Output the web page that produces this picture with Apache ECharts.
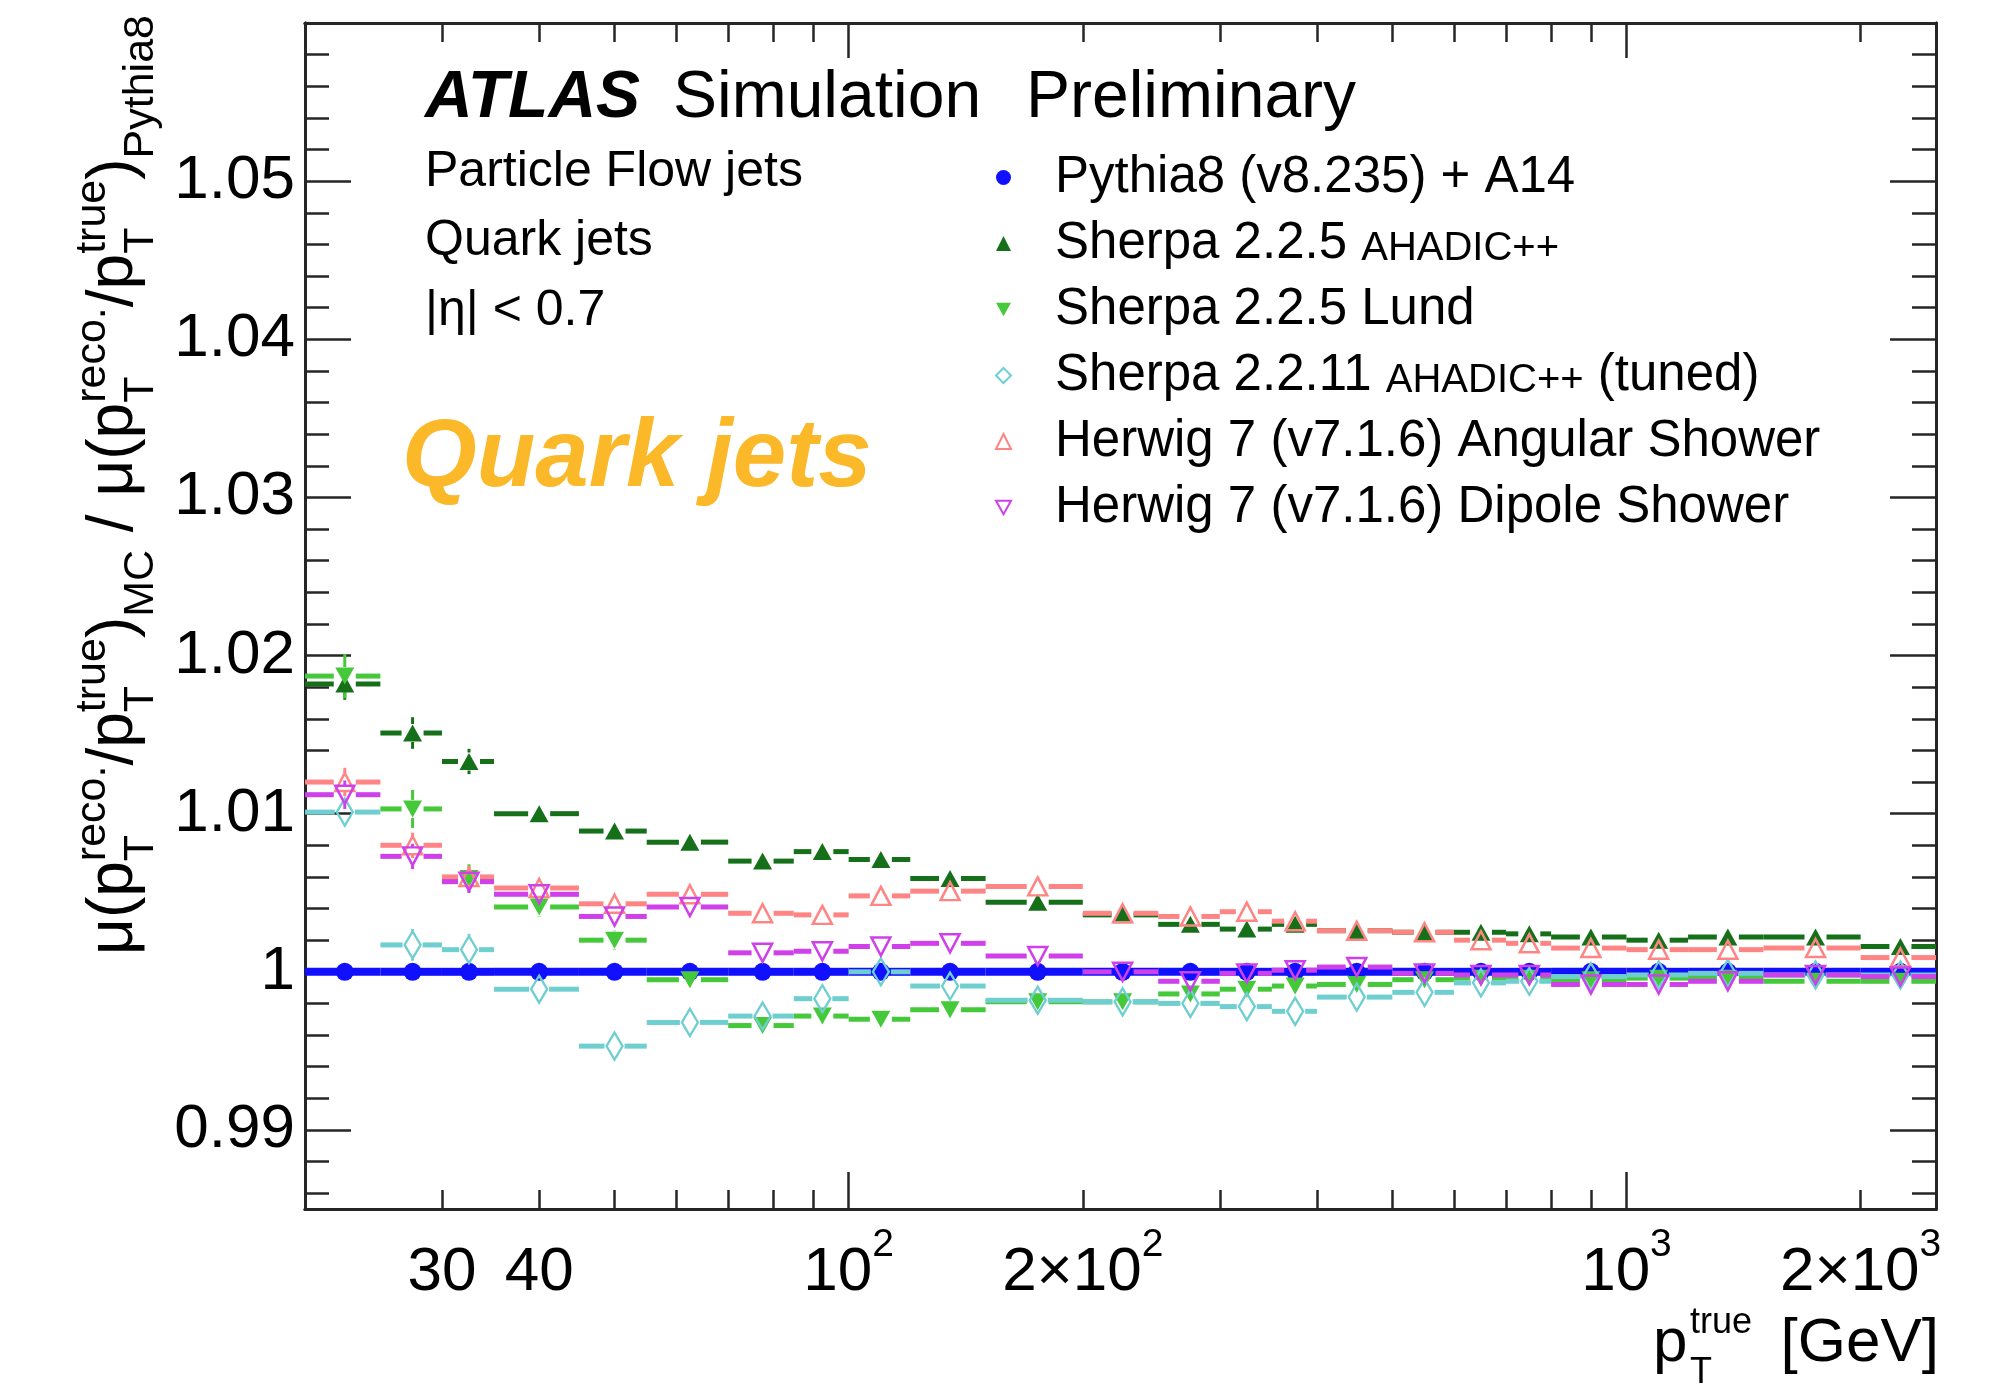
<!DOCTYPE html>
<html><head><meta charset="utf-8">
<script src="https://cdn.jsdelivr.net/npm/echarts@6/dist/echarts.min.js"></script>
<style>html,body{margin:0;padding:0;background:#fff}#c{width:1999px;height:1389px}</style>
</head><body><div id="c"></div>
<script>
// ---------------- data ----------------
const binEdges = [20,25,30,35,45,55,70,85,100,120,150,200,250,300,350,400,500,600,700,800,1000,1200,1500,2000,2500];

const pythia        = [1,1,1,1,1,1,1,1,1,1,1,1,1,1,1,1,1,1,1,1,1,1,1,1];
const sherpaAhadic  = [1.0182,1.0151,1.0133,1.0100,1.0089,1.0082,1.0070,1.0076,1.0071,1.0059,1.0044,1.0036,1.0030,1.0027,1.0030,1.0026,1.0025,1.0025,1.0024,1.0022,1.0020,1.0022,1.0022,1.0016];
const sherpaLund    = [1.0187,1.0103,1.0059,1.0041,1.0020,0.9995,0.9966,0.9972,0.9970,0.9976,0.9981,0.9981,0.9986,0.9989,0.9991,0.9992,0.9995,0.9996,0.9996,0.9995,0.9996,0.9996,0.9994,0.9994];
const sherpaTuned   = [1.0101,1.0017,1.0014,0.9989,0.9953,0.9968,0.9972,0.9983,1.0000,0.9991,0.9982,0.9981,0.9980,0.9978,0.9975,0.9984,0.9987,0.9993,0.9994,0.9997,0.9998,0.9999,0.9998,0.9998];
const herwigAngular = [1.0120,1.0080,1.0060,1.0053,1.0043,1.0049,1.0037,1.0036,1.0048,1.0051,1.0054,1.0037,1.0035,1.0038,1.0032,1.0026,1.0025,1.0020,1.0018,1.0015,1.0014,1.0014,1.0015,1.0009];
const herwigDipole  = [1.0112,1.0073,1.0057,1.0049,1.0035,1.0041,1.0012,1.0013,1.0016,1.0018,1.0010,1.0000,0.9994,0.9999,1.0001,1.0003,0.9999,0.9998,0.9998,0.9992,0.9992,0.9994,0.9998,0.9997];

const errPythia   = [0,0,0,0,0,0,0,0,0,0,0,0,0,0,0,0,0,0,0,0,0,0,0,0];
const errAhadic   = [0.0010,0.0010,0.0008,0.0005,0.0005,0.0004,0.0004,0.0004,0.0004,0.0004,0.0003,0.0003,0.0003,0.0003,0.0003,0.0003,0.0003,0.0003,0.0003,0.0003,0.0003,0.0003,0.0003,0.0003];
const errLund     = [0.0014,0.0012,0.0009,0.0006,0.0006,0.0005,0.0005,0.0005,0.0004,0.0004,0.0004,0.0004,0.0004,0.0004,0.0004,0.0003,0.0003,0.0003,0.0003,0.0003,0.0003,0.0003,0.0003,0.0003];
const errTuned    = [0.0009,0.0010,0.0010,0.0008,0.0008,0.0006,0.0006,0.0005,0.0005,0.0005,0.0004,0.0004,0.0004,0.0004,0.0004,0.0004,0.0003,0.0003,0.0003,0.0003,0.0003,0.0003,0.0003,0.0003];
const errAngular  = [0.0009,0.0008,0.0007,0.0006,0.0006,0.0005,0.0005,0.0005,0.0005,0.0005,0.0005,0.0005,0.0006,0.0006,0.0005,0.0004,0.0004,0.0004,0.0004,0.0003,0.0003,0.0003,0.0003,0.0003];
const errDipole   = [0.0009,0.0008,0.0007,0.0006,0.0006,0.0005,0.0005,0.0005,0.0005,0.0005,0.0005,0.0004,0.0004,0.0004,0.0004,0.0004,0.0003,0.0003,0.0003,0.0003,0.0003,0.0003,0.0003,0.0003];

const legendNames = [
  'Pythia8 (v8.235) + A14',
  'Sherpa 2.2.5 AHADIC++',
  'Sherpa 2.2.5 Lund',
  'Sherpa 2.2.11 AHADIC++ (tuned)',
  'Herwig 7 (v7.1.6) Angular Shower',
  'Herwig 7 (v7.1.6) Dipole Shower'
];

const xLabelValues = [30, 40, 100, 200, 1000, 2000];
const xMajorTicks = [100, 1000];
const xMinorTicks = [30,40,50,60,70,80,90,200,300,400,500,600,700,800,900,2000];
const yLabelValues = [0.99, 1.00, 1.01, 1.02, 1.03, 1.04, 1.05];
const yMajorTicks = [0.99, 1.00, 1.01, 1.02, 1.03, 1.04, 1.05];
const yMinorTicks = [];
for (let k = 493; k <= 530; k++) { if (k % 5 !== 0) yMinorTicks.push(k * 2 / 1000); }

// ---------------- style ----------------
const FONT = '"Liberation Sans", Arial, Helvetica, sans-serif';
const FRAME = '#262626';

const models = [
  {name: legendNames[0], values: pythia,        errs: errPythia,  color: '#1010ff', symbol: 'circle',   size: 18,      open: false, lw: 8, gapX: 0,  gapY: 9},
  {name: legendNames[1], values: sherpaAhadic,  errs: errAhadic,  color: '#16701a', symbol: 'triangle', size: [19,17], open: false, lw: 5, gapX: 11, gapY: 9},
  {name: legendNames[2], values: sherpaLund,    errs: errLund,    color: '#45c93a', symbol: 'path://M0,0L20,0L10,18Z', size: [19,17], open: false, lw: 5, gapX: 11, gapY: 9},
  {name: legendNames[3], values: sherpaTuned,   errs: errTuned,   color: '#6fcfd0', symbol: 'diamond',  size: [16,27], open: true,  lw: 5, gapX: 10, gapY: 14},
  {name: legendNames[4], values: herwigAngular, errs: errAngular, color: '#ff8585', symbol: 'triangle', size: [19,18], open: true,  lw: 5, gapX: 11, gapY: 9},
  {name: legendNames[5], values: herwigDipole,  errs: errDipole,  color: '#cf40ea', symbol: 'path://M0,0L20,0L10,18Z', size: [19,18], open: true,  lw: 5, gapX: 11, gapY: 9}
];

function barSeries(m, idx) {
  const data = m.values.map((v, i) => [binEdges[i], binEdges[i+1], v, m.errs[i], (binEdges[i] + binEdges[i+1]) / 2]);
  return {
    type: 'custom', name: '_bars' + idx, xAxisIndex: 0, yAxisIndex: 0, silent: true, clip: false,
    data: data, encode: {x: [0, 1, 4], y: 2},
    renderItem: function (params, api) {
      const lo = api.value(0), hi = api.value(1), v = api.value(2), e = api.value(3), c = api.value(4);
      const pL = api.coord([lo, v]), pR = api.coord([hi, v]), pC = api.coord([c, v]);
      const pT = api.coord([c, v + e]), pB = api.coord([c, v - e]);
      const st = {stroke: m.color, lineWidth: m.lw};
      const ch = [];
      if (pC[0] - m.gapX > pL[0]) ch.push({type: 'line', shape: {x1: pL[0], y1: pL[1], x2: pC[0] - m.gapX, y2: pC[1]}, style: st});
      if (pR[0] > pC[0] + m.gapX) ch.push({type: 'line', shape: {x1: pC[0] + m.gapX, y1: pC[1], x2: pR[0], y2: pR[1]}, style: st});
      const vst = {stroke: m.color, lineWidth: 3};
      if (pC[1] - pT[1] > m.gapY) {
        ch.push({type: 'line', shape: {x1: pC[0], y1: pT[1], x2: pC[0], y2: pC[1] - m.gapY}, style: vst});
        ch.push({type: 'line', shape: {x1: pC[0], y1: pC[1] + m.gapY, x2: pC[0], y2: pB[1]}, style: vst});
      }
      return {type: 'group', children: ch};
    }
  };
}
function markerSeries(m) {
  return {
    type: 'scatter', name: m.name, xAxisIndex: 0, yAxisIndex: 0, silent: true,
    data: m.values.map((v, i) => [(binEdges[i] + binEdges[i+1]) / 2, v]),
    symbol: m.symbol, symbolSize: m.size,
    itemStyle: {color: m.open ? 'rgba(0,0,0,0)' : m.color, borderColor: m.color, borderWidth: m.open ? 2.5 : 0, opacity: 1},
    emphasis: {disabled: true}
  };
}
const series = [];
models.forEach((m, i) => { series.push(barSeries(m, i)); series.push(markerSeries(m)); });

// ---------------- axes ----------------
function xAxisDef(position, ticks, len, labels) {
  return {
    type: 'log', logBase: 10, min: 20, max: 2500, position: position, gridIndex: 0,
    axisLine: {show: true, onZero: false, lineStyle: {color: FRAME, width: 3}},
    axisTick: {show: true, inside: true, length: len, customValues: ticks, lineStyle: {color: FRAME, width: 2.5}},
    axisLabel: labels ? {
      show: true, customValues: xLabelValues, margin: 17,
      formatter: function (v) {
        const r = Math.round(v);
        if (r === 100) return '{n|10}{s|2}';
        if (r === 200) return '{n|2\u00d710}{s|2}';
        if (r === 1000) return '{n|10}{s|3}';
        if (r === 2000) return '{n|2\u00d710}{s|3}';
        return '{n|' + r + '}';
      },
      rich: {
        n: {fontFamily: FONT, fontSize: 62, lineHeight: 78, color: '#000', verticalAlign: 'bottom'},
        s: {fontFamily: FONT, fontSize: 39, lineHeight: 39, color: '#000', verticalAlign: 'top'}
      }
    } : {show: false},
    splitLine: {show: false}, minorTick: {show: false}, minorSplitLine: {show: false}
  };
}
function yAxisDef(position, ticks, len, labels) {
  return {
    type: 'value', min: 0.985, max: 1.06, position: position, gridIndex: 0,
    axisLine: {show: true, onZero: false, lineStyle: {color: FRAME, width: 3}},
    axisTick: {show: true, inside: true, length: len, customValues: ticks, lineStyle: {color: FRAME, width: 2.5}},
    axisLabel: labels ? {
      show: true, customValues: yLabelValues, margin: 10, color: '#000', fontFamily: FONT, fontSize: 62,
      formatter: function (v) { return Math.abs(v - 1) < 1e-9 ? '1' : v.toFixed(2); }
    } : {show: false},
    splitLine: {show: false}, minorTick: {show: false}, minorSplitLine: {show: false}
  };
}

// ---------------- texts ----------------
const measureCtx = document.createElement('canvas').getContext('2d');
function tw(t, size, style) { measureCtx.font = (style || '') + ' ' + size + 'px ' + FONT; return measureCtx.measureText(t).width; }
function txt(t, x, base, size, opts) {
  opts = opts || {};
  const font = (opts.style || '') + ' ' + size + 'px ' + FONT;
  return {type: 'text', x: x, y: base - 0.347 * size, silent: true,
    style: {text: t, font: font, fill: opts.color || '#000', align: opts.align || 'left', textAlign: opts.align || 'left', verticalAlign: 'middle', textVerticalAlign: 'middle'}};
}

// y-axis title (rotated), assembled from pieces
const TF = 64, TS = 43;
const titleParts = [
  {m: '\u03bc(p'}, {sup: 'reco.', sub: 'T'}, {m: '/p'}, {sup: 'true', sub: 'T'}, {m: ')'}, {sub: 'MC'},
  {m: ' / \u03bc(p'}, {sup: 'reco.', sub: 'T'}, {m: '/p'}, {sup: 'true', sub: 'T'}, {m: ')'}, {sub: 'Pythia8'}
];
let cx = 0; const titleEls = [];
titleParts.forEach(p => {
  if (p.m) { titleEls.push(txt(p.m, cx, 0, TF)); cx += tw(p.m, TF); }
  else {
    let ww = 0;
    if (p.sup) { titleEls.push(txt(p.sup, cx, -0.45 * TF, TS)); ww = Math.max(ww, tw(p.sup, TS)); }
    if (p.sub) { titleEls.push(txt(p.sub, cx, 0.3 * TF, TS)); ww = Math.max(ww, tw(p.sub, TS)); }
    cx += ww;
  }
});
const titleLen = cx;

const graphics = [
  {type: 'group', x: 137, y: 15 + titleLen, rotation: Math.PI / 2, children: titleEls, silent: true},
  txt('ATLAS', 425, 122, 66, {style: 'italic bold'}),
  txt('Simulation', 673, 122, 66),
  txt('Preliminary', 1026, 122, 66),
  txt('Particle Flow jets', 425, 190, 50),
  txt('Quark jets', 425, 259, 50),
  txt('|\u03b7| < 0.7', 425, 329, 50),
  txt('Quark jets', 402, 493, 96, {style: 'italic bold', color: '#fbb829'}),
  // x-axis title
  txt('p', 1653, 1365, 62),
  txt('true', 1690, 1336, 36),
  txt('T', 1690, 1386, 36),
  txt('[GeV]', 1939, 1365, 62, {align: 'right'})
];

// ---------------- legend ----------------
const legendRich = {
  [legendNames[0]]: '{n|Pythia8 (v8.235) + A14}',
  [legendNames[1]]: '{n|Sherpa 2.2.5 }{s|AHADIC++}',
  [legendNames[2]]: '{n|Sherpa 2.2.5 Lund}',
  [legendNames[3]]: '{n|Sherpa 2.2.11 }{s|AHADIC++}{n| (tuned)}',
  [legendNames[4]]: '{n|Herwig 7 (v7.1.6) Angular Shower}',
  [legendNames[5]]: '{n|Herwig 7 (v7.1.6) Dipole Shower}'
};

const option = {
  animation: false,
  backgroundColor: '#fff',
  textStyle: {fontFamily: FONT},
  grid: {left: 305, right: 63, top: 23, bottom: 180, show: false, containLabel: false, outerBoundsMode: 'none'},
  xAxis: [
    xAxisDef('bottom', xMajorTicks, 37, true),
    xAxisDef('top', xMajorTicks, 35, false),
    xAxisDef('bottom', xMinorTicks, 19, false),
    xAxisDef('top', xMinorTicks, 19, false)
  ],
  yAxis: [
    yAxisDef('left', yMajorTicks, 46, true),
    yAxisDef('right', yMajorTicks, 46, false),
    yAxisDef('left', yMinorTicks, 24, false),
    yAxisDef('right', yMinorTicks, 24, false)
  ],
  legend: {
    orient: 'vertical', left: 995, top: 152, padding: 0, itemGap: 15, itemWidth: 15, itemHeight: 15,
    selectedMode: false,
    data: models.map(m => ({name: m.name, icon: m.symbol,
      itemStyle: {color: m.open ? 'rgba(0,0,0,0)' : m.color, borderColor: m.color, borderWidth: m.open ? 2 : 0}})),
    formatter: function (name) { return legendRich[name]; },
    textStyle: {
      fontFamily: FONT, fontSize: 51, color: '#000', lineHeight: 51, padding: [0, 0, 0, 39],
      rich: {
        n: {fontFamily: FONT, fontSize: 51, lineHeight: 51, color: '#000', verticalAlign: 'bottom'},
        s: {fontFamily: FONT, fontSize: 40, lineHeight: 43, color: '#000', verticalAlign: 'bottom'}
      }
    }
  },
  graphic: {elements: graphics},
  series: series
};

const chart = echarts.init(document.getElementById('c'), null, {renderer: 'canvas', width: 1999, height: 1389});
chart.setOption(option);
</script>
</body></html>
